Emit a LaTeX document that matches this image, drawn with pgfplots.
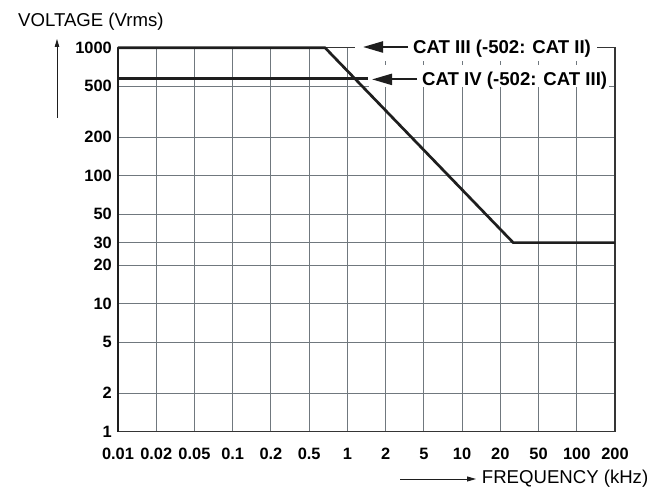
\documentclass[border=0pt]{standalone}
\usepackage{pgfplots}
\pgfplotsset{compat=1.18}
\usepackage{fontspec}
\setmainfont{Liberation Sans}
\usetikzlibrary{arrows.meta}
\definecolor{gridc}{RGB}{112,120,126}
\definecolor{linec}{RGB}{30,30,30}

\begin{document}
\begin{tikzpicture}[x=1pt,y=1pt]
\path[use as bounding box] (-118,-60.3) rectangle (533,431.7);
\begin{axis}[
 name=ax, at={(0,0)}, anchor=south west,
 scale only axis, width=497pt, height=384pt,
 xmode=log, ymode=log,
 xmin=0.01, xmax=215.443, ymin=1, ymax=1000,
 xtick={0.01,0.0215443,0.0464159,0.1,0.215443,0.464159,1,2.15443,4.64159,10,21.5443,46.4159,100,215.443},
 xticklabels={0.01,0.02,0.05,0.1,0.2,0.5,1,2,5,10,20,50,100,200},
 ytick={1,2,5,10,20,30,50,100,200,500,1000},
 yticklabels={1,2,5,10,20,30,50,100,200,500,1000},
 xminorticks=false, yminorticks=false,
 grid=major,
 major grid style={gridc, line width=0.9pt},
 major tick length=0pt,
 axis line style={linec!90, line width=1.3pt},
 tick label style={font=\fontsize{16.4}{19}\selectfont\bfseries, inner sep=0pt},
 xticklabel style={anchor=base, yshift=-27.5pt},
 yticklabel style={anchor=east, xshift=-6pt},
 clip=false,
 /pgf/number format/assume math mode=true,
]
\addplot[linec, line width=2.7pt, line join=round] coordinates {(0.01,1000) (0.638,1000) (27.9,30) (215.443,30)};
\addplot[linec, line width=2.7pt] coordinates {(0.01,575) (1.51,575)};
\end{axis}
\begin{scope}[shift={(ax.south west)}]
\draw[linec, line width=2pt] (0,0) -- (0,384);
\fill[white] (237,370.2) rectangle (479,393.7);
\fill[white] (251,344.2) rectangle (491,366.2);
\draw[linec, line width=2.2pt, -{Triangle[length=20pt,width=11pt]}] (290,384.7) -- (245,384.7);
\node[anchor=base west, inner sep=0pt, font=\fontsize{18.6}{22}\selectfont\bfseries] at (295,378.4) {CAT III (-502: CAT II)};
\draw[linec, line width=2.2pt, -{Triangle[length=20pt,width=11pt]}] (299,352.3) -- (254,352.3);
\node[anchor=base west, inner sep=0pt, font=\fontsize{18.6}{22}\selectfont\bfseries] at (304,346) {CAT IV (-502: CAT III)};
\node[anchor=base west, inner sep=0pt, font=\fontsize{18.6}{22}\selectfont] at (-100,404.7) {VOLTAGE (Vrms)};
\draw[linec, line width=0.8pt, -{Triangle[length=8pt,width=4.5pt]}] (-61,313.7) -- (-61,392.7);
\draw[linec, line width=0.8pt, -{Triangle[length=9pt,width=5pt]}] (282,-47.3) -- (358,-47.3);
\node[anchor=base west, inner sep=0pt, font=\fontsize{18.6}{22}\selectfont] at (363.7,-51.6) {FREQUENCY (kHz)};
\end{scope}
\end{tikzpicture}
\end{document}
